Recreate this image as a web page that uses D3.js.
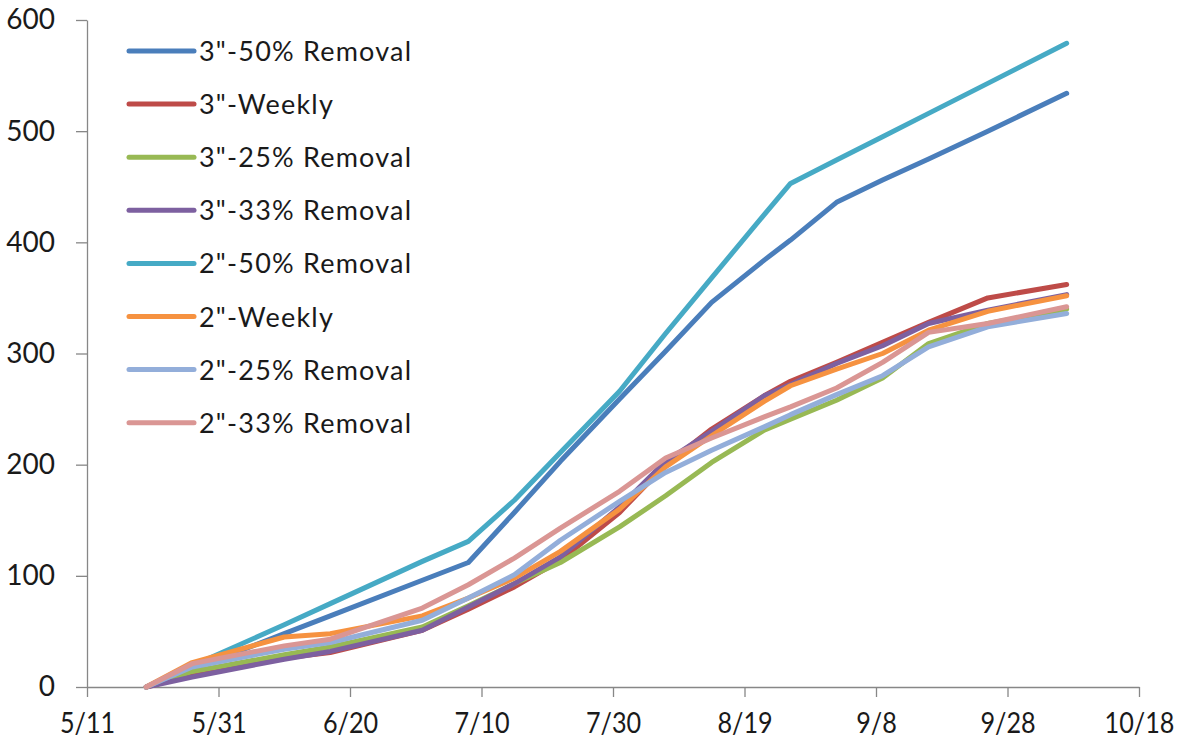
<!DOCTYPE html>
<html>
<head>
<meta charset="utf-8">
<script src="https://cdn.jsdelivr.net/npm/d3@7"></script>
<style>
  html, body { margin: 0; padding: 0; background: #ffffff; }
  svg { display: block; }
  text { font-family: Lato, "Liberation Sans", sans-serif; fill: #1a1a1a; }
</style>
</head>
<body>
<svg id="chart" width="1183" height="742"></svg>
<script>
// ---- data ----
const year = 2013;
const dates = ["5/20","5/27","6/10","6/17","7/1","7/8","7/15","7/22","7/31","8/7","8/14","8/22","8/26","9/2","9/9","9/16","9/25","10/7"];

const seriesNames = ['3"-50% Removal','3"-Weekly','3"-25% Removal','3"-33% Removal','2"-50% Removal','2"-Weekly','2"-25% Removal','2"-33% Removal'];
const seriesColors = ["#4A7EBB","#BE4B48","#98B954","#7D60A0","#46AAC5","#F69240","#93AEDA","#DA9694"];

const v3in50     = [0, 16, 48, 64, 96, 112, 157, 203, 259, 302, 346, 384, 402, 436, 456, 475, 500, 534];
const v3inWeekly = [0, 11, 26, 31, 51, 70, 90, 114, 157, 200, 232, 262, 275, 292, 310, 328, 350, 362];
const v3in25     = [0, 14, 29, 36, 54, 73, 93, 112, 144, 172, 202, 231, 241, 258, 278, 309, 327, 340];
const v3in33     = [0, 9, 25, 32, 51, 72, 93, 117, 162, 203, 230, 262, 272, 291, 307, 327, 339, 353];
const v2in50     = [0, 19, 56, 75, 113, 131, 168, 211, 266, 318, 368, 425, 453, 474, 495, 516, 543, 579];
const v2inWeekly = [0, 22, 45, 48, 64, 80, 98, 122, 160, 198, 226, 257, 271, 286, 300, 321, 338, 352];
const v2in25     = [0, 18, 34, 40, 60, 80, 101, 132, 167, 193, 213, 234, 245, 263, 280, 306, 324, 336];
const v2in33     = [0, 21, 37, 43, 71, 92, 116, 143, 176, 206, 224, 243, 252, 269, 292, 319, 327, 342];

const seriesValues = [v3in50, v3inWeekly, v3in25, v3in33, v2in50, v2inWeekly, v2in25, v2in33];

const xTickLabels = ["5/11","5/31","6/20","7/10","7/30","8/19","9/8","9/28","10/18"];
const yTicks = [0, 100, 200, 300, 400, 500, 600];

// ---- build ----
const parseMD = s => { const [m, d] = s.split("/").map(Number); return new Date(Date.UTC(year, m - 1, d)); };
const dateVals = dates.map(parseMD);
const xTickDates = xTickLabels.map(parseMD);

const svg = d3.select("#chart");
const plotLeft = 87, plotRight = 1139, plotTop = 20, plotBottom = 687;

const x = d3.scaleUtc().domain([xTickDates[0], xTickDates[xTickDates.length - 1]]).range([plotLeft, plotRight]);
const y = d3.scaleLinear().domain([0, 600]).range([plotBottom, plotTop]);

const axisColor = "#878787";

// y axis
const gy = svg.append("g").attr("transform", `translate(${plotLeft},0)`)
  .call(d3.axisLeft(y).tickValues(yTicks).tickSize(11).tickSizeOuter(0).tickPadding(21));
gy.selectAll("path.domain, line").attr("stroke", axisColor).attr("stroke-width", 1.3);
gy.selectAll("text").attr("font-size", 28).attr("font-family", "Lato, sans-serif").attr("fill", "#1a1a1a");

// x axis
const gx = svg.append("g").attr("transform", `translate(0,${plotBottom})`)
  .call(d3.axisBottom(x).tickValues(xTickDates).tickSize(10).tickSizeOuter(0).tickPadding(16)
    .tickFormat(d3.utcFormat("%-m/%-d")));
gx.selectAll("path.domain, line").attr("stroke", axisColor).attr("stroke-width", 1.3);
gx.selectAll("text").attr("font-size", 28).attr("font-family", "Lato, sans-serif").attr("fill", "#1a1a1a")
  .attr("transform", "scale(0.9,1)")
  .attr("x", 0);

// lines
const line = d3.line().x((d, i) => x(dateVals[i])).y(d => y(d));
seriesValues.forEach((vals, k) => {
  svg.append("path")
    .datum(vals)
    .attr("fill", "none")
    .attr("stroke", seriesColors[k])
    .attr("stroke-width", 5)
    .attr("stroke-linejoin", "round")
    .attr("stroke-linecap", "round")
    .attr("d", line);
});

// legend
const legend = svg.append("g").attr("transform", "translate(129,51)");
seriesNames.forEach((name, k) => {
  const g = legend.append("g").attr("transform", `translate(0,${k * 53.1})`);
  g.append("line").attr("x1", 0).attr("x2", 65).attr("y1", 0).attr("y2", 0)
    .attr("stroke", seriesColors[k]).attr("stroke-width", 5).attr("stroke-linecap", "round");
  g.append("text").attr("x", 70).attr("y", 10)
    .attr("font-size", 27).attr("letter-spacing", 1.2)
    .text(name);
});
</script>
</body>
</html>
